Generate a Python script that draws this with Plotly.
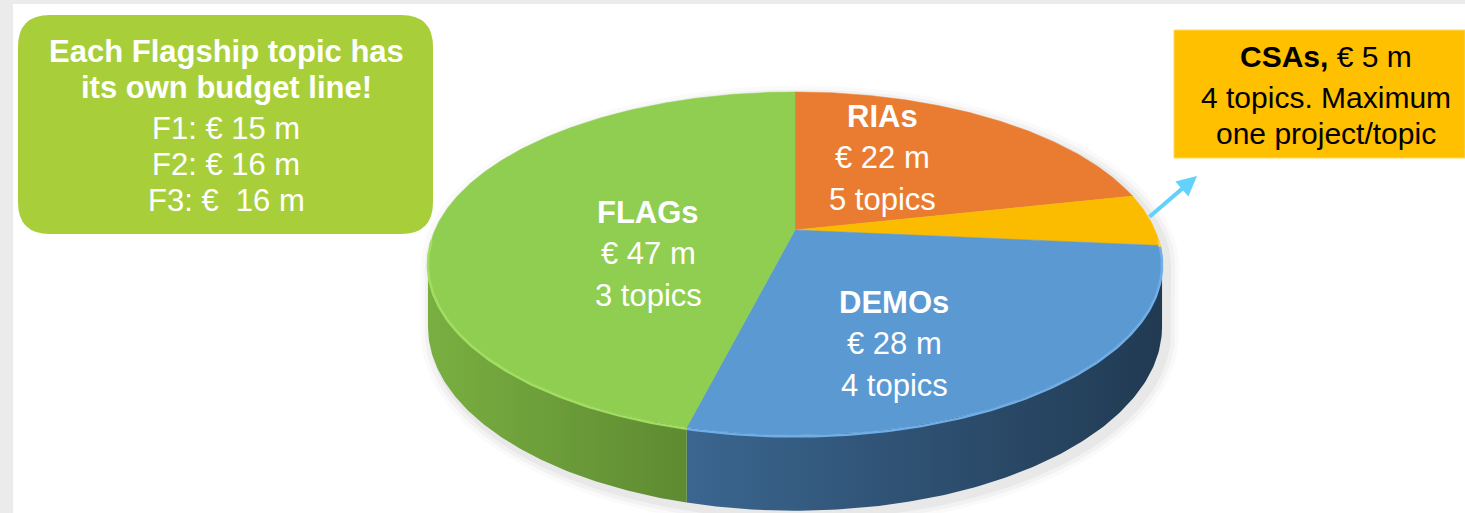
import numpy as np
import plotly.graph_objects as go

# ---------------- data ----------------
categories = ["RIAs", "CSAs", "DEMOs", "FLAGs"]
budgets_m = [22, 5, 28, 47]
topics = [5, 4, 4, 3]
flagship_lines = ["F1", "F2", "F3"]
flagship_budgets_m = [15, 16, 16]

# ---------------- styles ----------------
top_colors = {"RIAs": "#E97C30", "CSAs": "#FBBC00", "DEMOs": "#5B99D3", "FLAGs": "#8FCE50"}
side_colors = {"RIAs": ("#B85E20", "#9A4E1A"), "CSAs": ("#C99600", "#A57C00"),
               "DEMOs": ("#3B6690", "#213A52"), "FLAGs": ("#79AF41", "#5E8A31")}
rim_colors = {"RIAs": "#F49A5A", "CSAs": "#FFD040", "DEMOs": "#70AEE8", "FLAGs": "#A2DE62"}
FONT = "Arial, Liberation Sans, sans-serif"

# 3D pie geometry (pixel space of the figure)
CX, CY = 795.0, 230.0      # pie centre on top face
A, B = 360.0, 165.0        # horizontal / depth radius
K = -0.195                 # perspective factor
D0 = 61.0                  # extrusion depth


def proj(theta_deg, r=1.0, drop=0.0):
    t = np.radians(theta_deg)
    u = r * np.sin(t)
    v = -r * np.cos(t)
    w = 1 + K * v
    return CX + A * u / w, CY + (B * v + drop * D0) / w


total = float(sum(budgets_m))
bounds = np.concatenate([[0.0], np.cumsum(budgets_m) / total * 360.0])
theta_R = np.degrees(np.arccos(K))
theta_L = 360.0 - theta_R

fig = go.Figure()

# soft shadow (down-right)
sil_t = np.linspace(theta_L - 360, theta_R, 200)
xa, ya = proj(sil_t)
sil_b = np.linspace(theta_R, theta_L, 200)
xbb, ybb = proj(sil_b, drop=1.0)
px = np.concatenate([xa, xbb]); py = np.concatenate([ya, ybb])
for grow, alpha in [(12, 0.02), (8, 0.03), (4, 0.04)]:
    sx = (px - CX) * (1 + grow / 360) + CX + 5
    sy = (py - 300) * (1 + grow / 220) + 300 + 5
    fig.add_trace(go.Scatter(x=sx, y=sy, mode="lines", fill="toself",
                             fillcolor=f"rgba(0,0,0,{alpha})", line=dict(width=0),
                             hoverinfo="skip", showlegend=False))

# sides
for i, cat in enumerate(categories):
    a, b = bounds[i], bounds[i + 1]
    lo, hi = max(a, theta_R), min(b, theta_L)
    if lo >= hi:
        continue
    ts = np.linspace(lo, hi, 120)
    xt, yt = proj(ts)
    xb, yb = proj(ts[::-1], drop=1.0)
    c1, c2 = side_colors[cat]
    fig.add_trace(go.Scatter(
        x=np.concatenate([xt, xb]), y=np.concatenate([yt, yb]),
        mode="lines", fill="toself", line=dict(width=0),
        fillgradient=dict(type="horizontal", colorscale=[[0, c1], [1, c2]]),
        hoverinfo="skip", showlegend=False))

# top faces
for i, cat in enumerate(categories):
    a, b = bounds[i], bounds[i + 1]
    ts = np.linspace(a, b, max(int((b - a) * 2), 8))
    xt, yt = proj(ts)
    fig.add_trace(go.Scatter(
        x=np.concatenate([[CX], xt, [CX]]), y=np.concatenate([[CY], yt, [CY]]),
        mode="lines", fill="toself", fillcolor=top_colors[cat],
        line=dict(width=0.5, color=top_colors[cat]),
        name=cat, hovertemplate=f"{cat}: € {budgets_m[i]} m<extra></extra>",
        showlegend=False))

# bevel highlight along front rim
for i, cat in enumerate(categories):
    a, b = bounds[i], bounds[i + 1]
    lo, hi = max(a, theta_R - 8), min(b, theta_L + 8)
    if lo >= hi:
        continue
    ts = np.linspace(lo, hi, 120)
    xt, yt = proj(ts)
    fig.add_trace(go.Scatter(x=xt, y=yt + 1.5, mode="lines",
                             line=dict(width=2.5, color=rim_colors[cat]),
                             hoverinfo="skip", showlegend=False))

# ---------------- slice labels ----------------
label_pos = {"RIAs": (882, 116), "FLAGs": (648, 212), "DEMOs": (894, 302)}
PITCH = 41.5
for i, cat in enumerate(categories):
    if cat not in label_pos:
        continue
    lx, ly = label_pos[cat]
    lines = [f"<b>{cat}</b>", f"€ {budgets_m[i]} m", f"{topics[i]} topics"]
    for j, t in enumerate(lines):
        fig.add_annotation(x=lx, y=ly + j * PITCH, text=t, showarrow=False,
                           xanchor="center", yanchor="middle",
                           font=dict(family=FONT, size=31, color="white"))

# ---------------- green note box ----------------
gx0, gy0, gx1, gy1, rr = 18, 15, 433, 234, 32
path = (f"M{gx0+rr},{gy0} L{gx1-rr},{gy0} Q{gx1},{gy0} {gx1},{gy0+rr} "
        f"L{gx1},{gy1-rr} Q{gx1},{gy1} {gx1-rr},{gy1} L{gx0+rr},{gy1} "
        f"Q{gx0},{gy1} {gx0},{gy1-rr} L{gx0},{gy0+rr} Q{gx0},{gy0} {gx0+rr},{gy0} Z")
fig.add_shape(type="path", path=path, fillcolor="#A8CF3A", line=dict(width=0),
              xref="x", yref="y", layer="above")
box_lines = ["<b>Each Flagship topic has</b>", "<b>its own budget line!</b>"]
box_lines += [f"{n}: € {v} m" if k < 2 else f"{n}: € \u00a0{v} m"
              for k, (n, v) in enumerate(zip(flagship_lines, flagship_budgets_m))]
box_y = [51, 87, 128, 164, 200]
for t, y in zip(box_lines, box_y):
    fig.add_annotation(x=226, y=y, text=t, showarrow=False, xanchor="center",
                       yanchor="middle", font=dict(family=FONT, size=31, color="white"))

# ---------------- CSA callout ----------------
fig.add_shape(type="rect", x0=1174, y0=30, x1=1465, y1=158, fillcolor="#FFC000",
              line=dict(width=1, color="#FFD95A"), layer="above")
csa_i = categories.index("CSAs")
csa_lines = [f"<b>CSAs,</b> € {budgets_m[csa_i]} m",
             f"{topics[csa_i]} topics. Maximum", "one project/topic"]
for t, y in zip(csa_lines, [56, 97, 133]):
    fig.add_annotation(x=1326, y=y, text=t, showarrow=False, xanchor="center",
                       yanchor="middle", font=dict(family=FONT, size=30, color="black"))
fig.add_annotation(x=1197, y=176, ax=1148, ay=218, xref="x", yref="y",
                   axref="x", ayref="y", text="", showarrow=True,
                   arrowhead=2, arrowsize=1.0, arrowwidth=4, arrowcolor="#63D2FA")

# ---------------- layout ----------------
fig.add_shape(type="rect", x0=13, y0=4, x1=1465, y1=513, fillcolor="white",
              line=dict(width=0), layer="below")
fig.update_layout(
    width=1465, height=513, margin=dict(l=0, r=0, t=0, b=0),
    paper_bgcolor="#EBEBEB", plot_bgcolor="#EBEBEB",
    xaxis=dict(range=[0, 1465], visible=False, fixedrange=True),
    yaxis=dict(range=[513, 0], visible=False, fixedrange=True),
    showlegend=False,
)
fig.write_html("out.html", config={"displayModeBar": False},
               post_script="document.body.style.margin='0';document.body.style.overflow='hidden';")
